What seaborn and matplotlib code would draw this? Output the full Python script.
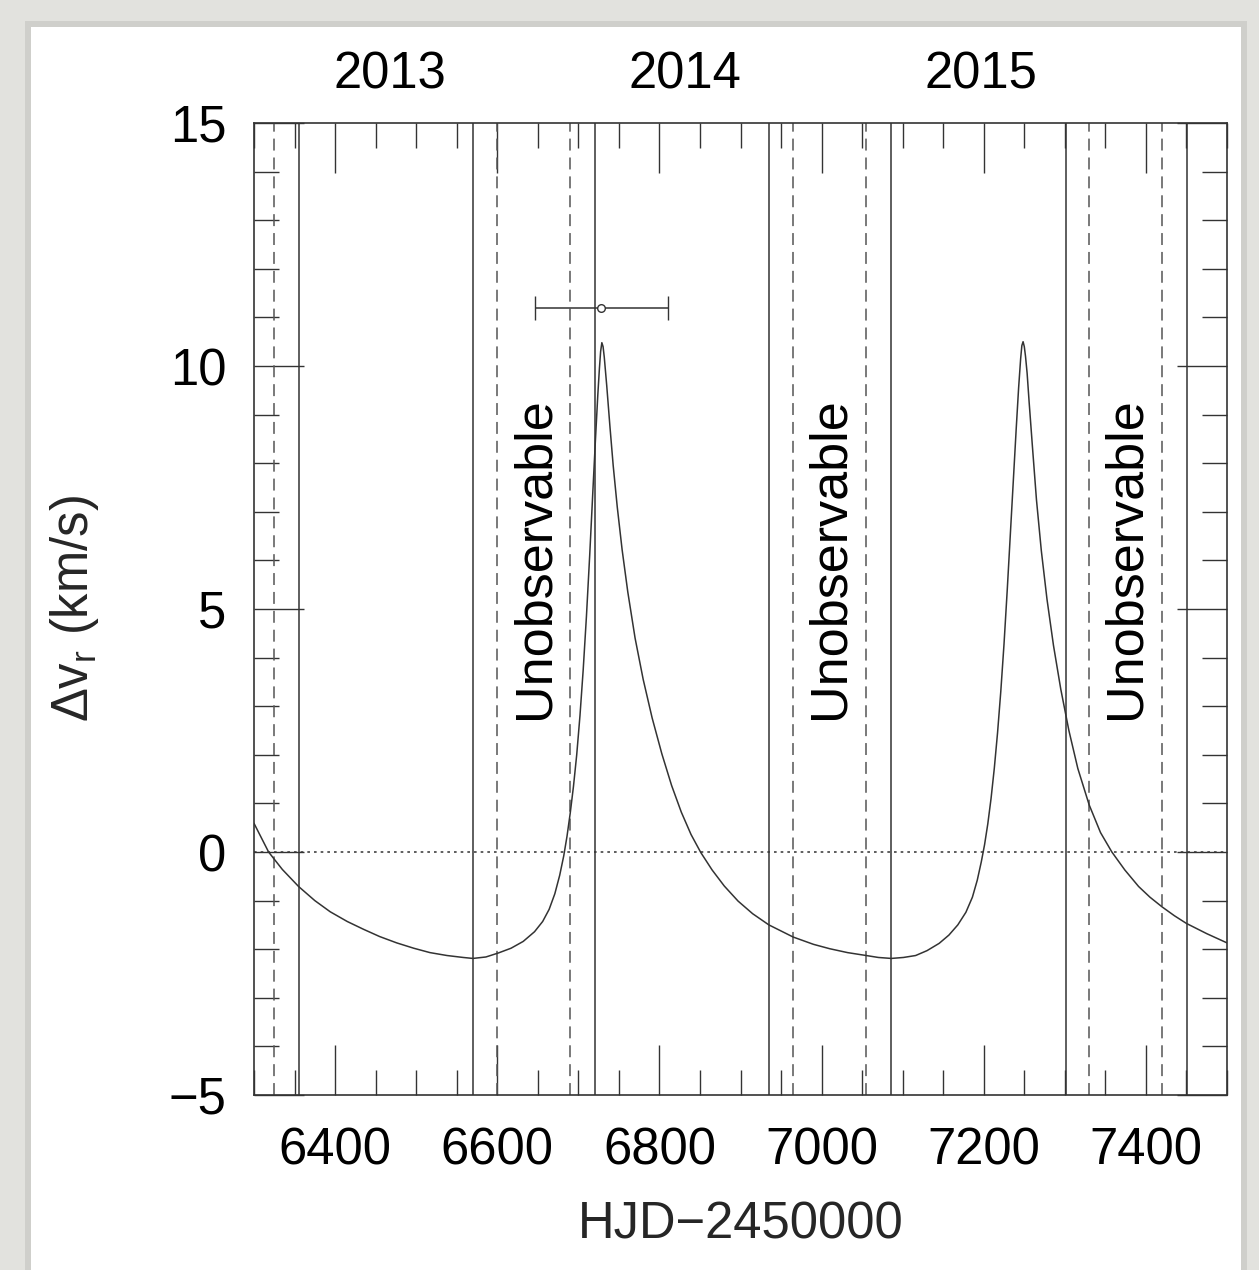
import matplotlib
matplotlib.use("Agg")
import matplotlib.pyplot as plt
import seaborn as sns
from matplotlib.ticker import MultipleLocator
from matplotlib.patches import Rectangle

# radial velocity curve (HJD-2450000, km/s)
curve_x = [6300, 6318, 6335, 6355, 6375, 6394, 6415, 6435, 6455, 6476, 6497, 6517,
           6538, 6558, 6570, 6586, 6601, 6617, 6632, 6646, 6656, 6664, 6671, 6677,
           6682, 6686, 6690, 6694, 6698, 6702, 6706, 6710, 6714, 6718, 6721, 6724,
           6726, 6727.5, 6729, 6730.5, 6732, 6735, 6739, 6743, 6748, 6754, 6761, 6770,
           6780, 6791, 6803, 6815, 6827, 6839, 6851, 6865, 6880, 6897, 6915, 6935,
           6965, 6990, 7010, 7032, 7055, 7070, 7086, 7101, 7116, 7130, 7145,
           7157, 7168, 7178, 7186, 7192, 7197, 7201, 7205, 7209, 7213, 7217, 7221,
           7225, 7229, 7233, 7237, 7240, 7243, 7245.5, 7247, 7248.5, 7250, 7251.5, 7253.5,
           7256, 7260, 7265, 7271, 7278, 7286, 7295, 7305, 7316, 7330, 7344, 7358,
           7374, 7391, 7405, 7420, 7435, 7450, 7475, 7500]
curve_y = [0.59, 0.00, -0.36, -0.71, -1.00, -1.23, -1.43, -1.59, -1.74, -1.87, -1.98, -2.07,
           -2.13, -2.17, -2.19, -2.16, -2.08, -1.98, -1.84, -1.64, -1.43, -1.18, -0.86, -0.48,
           -0.08, 0.32, 0.80, 1.35, 2.00, 2.80, 3.75, 4.85, 6.10, 7.45, 8.45, 9.40,
           9.95, 10.30, 10.48, 10.40, 10.18, 9.60, 8.75, 7.95, 7.10, 6.22, 5.35, 4.40,
           3.55, 2.76, 2.02, 1.37, 0.82, 0.36, -0.01, -0.37, -0.70, -1.01, -1.27, -1.50,
           -1.75, -1.90, -1.99, -2.07, -2.13, -2.17, -2.19, -2.17, -2.13, -2.03, -1.88,
           -1.71, -1.50, -1.24, -0.93, -0.58, -0.20, 0.15, 0.58, 1.10, 1.72, 2.45, 3.30,
           4.28, 5.40, 6.60, 7.80, 8.70, 9.55, 10.15, 10.42, 10.50, 10.40, 10.20, 9.85,
           9.25, 8.35, 7.25, 6.20, 5.20, 4.25, 3.35, 2.50, 1.72, 0.97, 0.40, 0.00,
           -0.37, -0.71, -0.93, -1.13, -1.31, -1.47, -1.68, -1.87]

solid_lines = [6355, 6570, 6721, 6935, 7086, 7301, 7451]
dashed_lines = [6325, 6600, 6690, 6965, 7055, 7330, 7420]

years = ["2013", "2014", "2015"]
year_x = [6467, 6832, 7197]

unobs_x = [6646, 7010, 7375]
unobs_y = 6.05

point_x = [6728]
point_y = [11.2]
point_xerr = [82]

sns.set_style("ticks")
plt.rcParams["font.family"] = ["Liberation Sans", "DejaVu Sans"]
plt.rcParams["mathtext.fontset"] = "custom"
plt.rcParams["mathtext.rm"] = "Liberation Sans"
plt.rcParams["mathtext.it"] = "Liberation Sans"
plt.rcParams["lines.scale_dashes"] = False

ink = "#333333"
fs = 36.5

fig = plt.figure(figsize=(12.59, 12.70), dpi=100)
fig.patch.set_facecolor("#e2e2de")
# white mat with a soft bevelled edge, kept behind the axes
fig.patches.append(Rectangle((25 / 1259, 0), 1222 / 1259, 1 - 21 / 1270,
                             transform=fig.transFigure, facecolor="#cfcfcb",
                             edgecolor="none", zorder=-2))
fig.patches.append(Rectangle((31 / 1259, 0), 1210 / 1259, 1 - 27 / 1270,
                             transform=fig.transFigure, facecolor="white",
                             edgecolor="none", zorder=-1))

ax = fig.add_axes([254 / 1259, 1 - 1095 / 1270, 973 / 1259, 972 / 1270])
ax.set_zorder(1)
ax.set_facecolor("white")

for xv in solid_lines:
    ax.axvline(xv, color=ink, lw=1.1, zorder=1)
for xv in dashed_lines:
    ax.axvline(xv, color="#555555", lw=1.1, ls=(0, (8.6, 5)), zorder=1)
ax.axhline(0, color=ink, lw=1.1, ls=(0, (1.9, 2.9)), zorder=1)

sns.lineplot(x=curve_x, y=curve_y, sort=False, estimator=None,
             color=ink, lw=1.1, ax=ax, zorder=3)

ax.errorbar(point_x, point_y, xerr=point_xerr, fmt="o", ms=5.5,
            mfc="white", mec=ink, mew=1.0, ecolor=ink, elinewidth=1.1,
            capsize=8.5, capthick=1.1, zorder=4)

for xv in unobs_x:
    ax.text(xv, unobs_y, "Unobservable", rotation=90, ha="center", va="center",
            fontsize=37.5, color="black")

for lab, xv in zip(years, year_x):
    ax.text(xv, 1.036, lab, transform=ax.get_xaxis_transform(),
            ha="center", va="baseline", fontsize=fs, color="black")

ax.set_xlim(6300, 7500)
ax.set_ylim(-5, 15)
ax.xaxis.set_major_locator(MultipleLocator(200))
ax.xaxis.set_minor_locator(MultipleLocator(50))
ax.yaxis.set_major_locator(MultipleLocator(5))
ax.yaxis.set_minor_locator(MultipleLocator(1))

ax.tick_params(which="both", direction="in", top=True, right=True,
               color=ink, width=1.0, labelsize=fs, labelcolor="black")
ax.tick_params(which="major", length=36)
ax.tick_params(which="minor", length=18)
ax.tick_params(axis="x", which="major", pad=23)
ax.tick_params(axis="y", which="major", pad=20)

for sp in ax.spines.values():
    sp.set_color(ink)
    sp.set_linewidth(1.2)

ax.set_xlabel("HJD\u22122450000", fontsize=fs)
ax.set_ylabel(r"Δv$_{\mathrm{r}}$ (km/s)", fontsize=fs)
ax.xaxis.set_label_coords(0.5, -0.109)
ax.yaxis.set_label_coords(-0.157, 0.50)

fig.savefig("out.png", dpi=100, facecolor=fig.get_facecolor())
